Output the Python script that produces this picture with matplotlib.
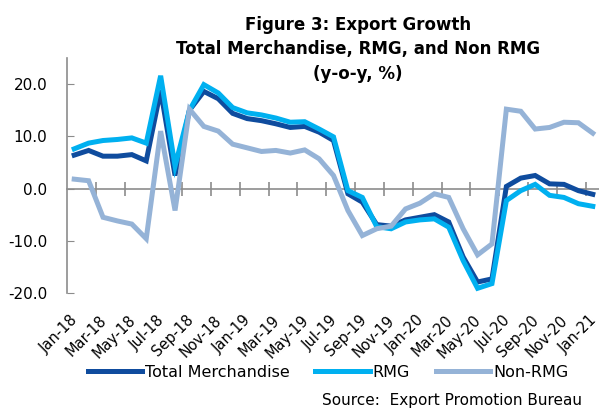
import matplotlib.pyplot as plt
import matplotlib.transforms as mtransforms
import numpy as np

plt.rcParams['font.family'] = ['DejaVu Sans']

months = ['Jan-18', 'Feb-18', 'Mar-18', 'Apr-18', 'May-18', 'Jun-18', 'Jul-18', 'Aug-18',
          'Sep-18', 'Oct-18', 'Nov-18', 'Dec-18', 'Jan-19', 'Feb-19', 'Mar-19', 'Apr-19',
          'May-19', 'Jun-19', 'Jul-19', 'Aug-19', 'Sep-19', 'Oct-19', 'Nov-19', 'Dec-19',
          'Jan-20', 'Feb-20', 'Mar-20', 'Apr-20', 'May-20', 'Jun-20', 'Jul-20', 'Aug-20',
          'Sep-20', 'Oct-20', 'Nov-20', 'Dec-20', 'Jan-21']

total = [6.4, 7.3, 6.2, 6.2, 6.5, 5.3, 18.8, 2.5, 15.0, 18.6, 17.2, 14.4, 13.4, 13.0,
         12.4, 11.7, 11.9, 10.8, 9.2, -1.0, -2.6, -6.9, -7.2, -6.0, -5.5, -5.0, -6.4,
         -13.1, -17.9, -17.3, 0.4, 2.0, 2.5, 0.9, 0.8, -0.4, -1.1]
rmg = [7.6, 8.7, 9.2, 9.4, 9.7, 8.7, 21.6, 4.3, 15.0, 19.9, 18.3, 15.5, 14.5, 14.1,
       13.5, 12.7, 12.8, 11.4, 9.9, -0.4, -1.7, -7.3, -7.7, -6.4, -6.0, -5.8, -7.4,
       -13.8, -19.1, -18.2, -2.3, -0.4, 0.8, -1.3, -1.7, -2.9, -3.4]
non_rmg = [1.8, 1.5, -5.5, -6.2, -6.8, -9.6, 11.0, -4.2, 15.2, 11.9, 11.0, 8.5, 7.8, 7.1,
           7.3, 6.8, 7.4, 5.7, 2.5, -4.2, -9.0, -7.7, -7.2, -3.9, -2.8, -1.0, -1.7,
           -7.7, -12.7, -10.6, 15.2, 14.8, 11.4, 11.7, 12.7, 12.6, 10.6]

c_total = '#0F4C9E'
c_rmg = '#00B0F0'
c_non = '#95B3D7'
grey = '#8C8C8C'

fig = plt.figure(figsize=(5.99, 4.11), dpi=100)
ax = fig.add_axes([67 / 599, 1 - 293 / 411, 533 / 599, 235 / 411])

x = np.arange(len(months))
ax.plot(x, total, color=c_total, lw=3.6, label='Total Merchandise', solid_joinstyle='miter')
ax.plot(x, rmg, color=c_rmg, lw=3.6, label='RMG', solid_joinstyle='miter')
ax.plot(x, non_rmg, color=c_non, lw=3.6, label='Non-RMG', solid_joinstyle='miter')

ax.set_xlim(-0.5, len(months) - 0.5)
ax.set_ylim(-20, 25)
ax.set_yticks([-20, -10, 0, 10, 20])
ax.set_yticklabels(['%.1f' % v for v in [-20, -10, 0, 10, 20]], fontsize=11)
ax.tick_params(axis='y', direction='in', length=5, color=grey, pad=14)

for s in ['top', 'right', 'bottom']:
    ax.spines[s].set_visible(False)
ax.spines['left'].set_color(grey)
ax.spines['left'].set_linewidth(1.2)

ax.set_xticks(x[::2])
ax.set_xticklabels(months[::2], rotation=45, ha='right', va='top',
                   rotation_mode='anchor', fontsize=10.5)
ax.tick_params(axis='x', length=0, pad=14)
shift = mtransforms.ScaledTranslation(-4 / 100, 0, fig.dpi_scale_trans)
for lab in ax.get_xticklabels():
    lab.set_transform(lab.get_transform() + shift)

# zero line with tick marks between categories
zero = ax.secondary_xaxis(20 / 45)
zero.set_xticks(np.arange(1.5, len(months) - 1, 2))
zero.set_xticklabels([])
zero.tick_params(direction='inout', length=10, color=grey, width=1.2)
zero.spines['bottom'].set_color(grey)
zero.spines['bottom'].set_linewidth(1.2)

fig.text(358 / 599, 1 - 16 / 411, 'Figure 3: Export Growth\nTotal Merchandise, RMG, and Non RMG\n(y-o-y, %)',
         ha='center', va='top', fontsize=12, fontweight='bold', linespacing=1.45)

fig.legend(loc='center', bbox_to_anchor=(328 / 599, 1 - 372 / 411), ncol=3, frameon=False,
           fontsize=11.5, handlelength=3.4, handletextpad=0.2, columnspacing=1.6)

fig.text(582 / 599, 1 - 400 / 411, 'Source:  Export Promotion Bureau', ha='right', va='center', fontsize=11)

fig.savefig('out.png', dpi=100)
